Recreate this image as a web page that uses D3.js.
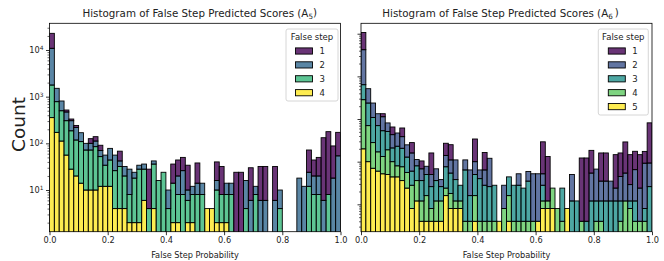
<!DOCTYPE html>
<html>
<head>
<meta charset="utf-8">
<script src="https://cdn.jsdelivr.net/npm/d3@7"></script>
<style>
  body { margin: 0; background: #fff; }
  text { font-family: "DejaVu Sans", sans-serif; fill: #222; }
</style>
</head>
<body>
<svg id="chart"></svg>
<script>
const width = 664,
      height = 261;

const nBins = 60;
const xTicks = [0, 0.2, 0.4, 0.6, 0.8, 1.0];

// A5 panel, stacked counts per bin (false step 1..4)
const a5Step1 = [11890,0,0,48,26,24,0,0,26,27,21,0,0,0,26,0,0,0,0,0,24,0,0,0,0,22,24,24,24,0,24,0,0,0,24,24,0,0,24,24,0,24,0,26,26,0,26,0,0,0,0,0,0,48,24,30,126,170,70,118];
const a5Step2 = [9080,728,308,164,120,100,60,28,28,27,18,22,34,30,10,12,20,6,6,8,0,6,0,0,6,0,12,18,4,4,6,6,0,0,6,0,6,6,0,0,12,6,4,6,6,0,6,6,0,0,0,18,12,12,12,12,6,0,18,54];
const a5Step3 = [1422,610,388,250,158,98,95,62,62,75,40,22,32,22,28,16,6,16,26,22,4,32,16,24,4,12,6,8,4,6,8,8,0,0,8,6,6,8,0,0,4,0,8,0,0,0,0,4,0,0,0,0,0,12,8,8,0,8,0,0];
const a5Step4 = [356,172,112,56,28,20,14,10,10,10,12,12,12,4,4,4,2,2,2,6,0,4,0,0,0,2,2,0,2,2,0,0,4,4,2,2,2,0,0,0,0,0,0,0,0,0,0,0,0,0,0,0,0,0,0,0,0,0,0,0];

// A6 panel, stacked values per bin (false step 1..5)
const a6Step1 = [6480,0,0,0,20,0,22,0,23,0,12,0,3.6,0,11,0,0,13,14,0,0,0,0,24,0,10,0,0,0,0,0,0,0,0,0,0,0,24,12,0,0,0,0,0,0,11.8,11.8,13,0,12.5,12.5,0,12.2,11.5,23.6,11.7,11,12.2,8.2,72];
const a6Step2 = [3580,277,128,63,60,30,22,24,18,12,10,3.2,3.2,2.8,2.4,3.2,1.2,6.4,5.6,7.2,0,4.6,4.8,5,2.4,3.6,9.4,0,0,2,0,0,2.4,0,2.4,4.8,4.8,2.4,0,0,0,0,0,3.8,0,0,0,4.2,5.5,2.3,2.3,2.3,1.2,3.3,4.2,1.7,5.3,2,8.4,6.7];
const a6Step3 = [354,167,81,53,40,32,11,15,13,7.2,3.2,4.4,2.4,3.4,1.8,2.4,1.4,5.2,3.6,2.6,1.6,6,1.2,3.4,3.6,2.4,2.2,2.4,0,0,2.8,2.4,2.4,2,3.1,0,0,1.6,0,0,0,2,0,1.2,1.2,0,0.4,1.2,0.8,0.8,1.2,1.2,1.2,0.8,0,0.4,0.8,0,0.4,2.6];
const a6Step4 = [264,60,21,11,8,14,5.6,3.6,4,3.2,2,2.4,0.8,1.2,0.4,0.8,0.8,0.8,1,0.4,0.4,0.4,0.4,1.2,0.4,0.4,0.4,0.4,0,0.8,1.2,0.4,0.4,0.4,0.4,0.4,0,0.4,0.4,1.6,0.8,0.4,0,0,0,0.4,0,0,0.4,0.4,0,0,0,0.4,1.2,0.8,0.4,0.4,0.4,0];
const a6Step5 = [20,10,7,6,5.2,5,4.4,4.4,3.6,2.4,0.8,1.2,0.4,0.4,0.4,0.4,0.4,1.6,0.8,0.8,0.8,0,0,0.4,0,0,0,0,0.4,0,0.4,0,0,0,0,0,0.4,0.8,0.8,0.8,0,0,0.8,0,0,0,0,0,0,0,0,0,0,0,0,0,0,0,0,0];

const labels4 = ["1", "2", "3", "4"];
const labels5 = ["1", "2", "3", "4", "5"];
const viridis4 = ["#440154", "#31688e", "#35b779", "#fde725"];
const viridis5 = ["#440154", "#3b528b", "#21918c", "#5ec962", "#fde725"];

const svg = d3.select("#chart").attr("width", width).attr("height", height);

function drawPanel(cfg) {
  const g = svg.append("g");
  const x = d3.scaleLinear().domain([0, 1]).range([cfg.left, cfg.right]);
  const y = d3.scaleLog().domain(cfg.yDomain).range([cfg.bottom, cfg.top]);

  const keys = cfg.series.map((s, i) => "s" + (i + 1));
  const rows = d3.range(nBins).map(b => {
    const r = {bin: b};
    cfg.series.forEach((s, i) => r["s" + (i + 1)] = s[b]);
    return r;
  });
  // highest step sits at the bottom of the stack
  const layers = d3.stack().keys(keys.slice().reverse())(rows);

  svg.append("clipPath").attr("id", cfg.id)
    .append("rect")
      .attr("x", cfg.left).attr("y", cfg.top)
      .attr("width", cfg.right - cfg.left).attr("height", cfg.bottom - cfg.top);

  const bars = g.append("g").attr("clip-path", `url(#${cfg.id})`);
  const bw = x(1 / nBins) - x(0);
  layers.forEach(layer => {
    const i = keys.indexOf(layer.key);
    bars.append("g")
        .attr("fill", cfg.colors[i])
        .attr("fill-opacity", 0.8)
        .attr("stroke", "#000")
        .attr("stroke-width", 0.9)
      .selectAll("rect")
      .data(layer.filter(d => d[1] - d[0] > 1e-9))
      .join("rect")
        .attr("x", d => x(d.data.bin / nBins))
        .attr("width", bw)
        .attr("y", d => y(d[1]))
        .attr("height", d => (d[0] > 1e-9 ? y(d[0]) : cfg.bottom + 4) - y(d[1]));
  });

  // log ticks
  const lo = Math.log10(cfg.yDomain[0]), hi = Math.log10(cfg.yDomain[1]);
  const majors = d3.range(Math.ceil(lo), Math.floor(hi) + 1).map(k => Math.pow(10, k));
  const minors = [];
  d3.range(Math.floor(lo), Math.floor(hi) + 1).forEach(k => {
    d3.range(2, 10).forEach(m => {
      const v = m * Math.pow(10, k);
      if (v > cfg.yDomain[0] && v < cfg.yDomain[1]) minors.push(v);
    });
  });

  const yMinor = g.append("g")
    .attr("transform", `translate(${cfg.left},0)`)
    .call(d3.axisLeft(y).tickValues(minors).tickSize(2).tickFormat(""));
  yMinor.select(".domain").remove();
  yMinor.selectAll("line").attr("stroke-width", 0.6);

  const yMajor = g.append("g")
    .attr("transform", `translate(${cfg.left},0)`)
    .call(d3.axisLeft(y).tickValues(majors).tickSize(3.5).tickPadding(2.5).tickFormat(""));
  yMajor.select(".domain").remove();
  yMajor.selectAll("line").attr("stroke-width", 0.8);
  if (cfg.yLabels) {
    yMajor.selectAll("text")
      .attr("font-size", 8.2)
      .attr("fill", "#222")
      .each(function(d) {
        const t = d3.select(this);
        t.append("tspan").text("10");
        t.append("tspan").attr("dy", "-0.45em").attr("font-size", "72%").text(Math.round(Math.log10(d)));
      });
  }

  const xAxis = g.append("g")
    .attr("transform", `translate(0,${cfg.bottom})`)
    .call(d3.axisBottom(x).tickValues(xTicks).tickSize(3.5).tickPadding(2).tickFormat(d3.format(".1f")));
  xAxis.select(".domain").remove();
  xAxis.selectAll("line").attr("stroke-width", 0.8);
  xAxis.selectAll("text").attr("font-size", 8.2).attr("fill", "#222");

  g.append("rect")
    .attr("x", cfg.left).attr("y", cfg.top)
    .attr("width", cfg.right - cfg.left).attr("height", cfg.bottom - cfg.top)
    .attr("fill", "none").attr("stroke", "#000").attr("stroke-width", 0.8);

  // title with subscript
  const title = g.append("text")
    .attr("x", cfg.titleX).attr("y", 17)
    .attr("font-size", 10.3);
  title.append("tspan").text("Histogram of False Step Predicted Scores (A");
  title.append("tspan").attr("dy", "0.3em").attr("font-size", "70%").text(cfg.sub);
  title.append("tspan").attr("dy", "-0.3em").text(cfg.subGap + ")");

  g.append("text")
    .attr("x", (cfg.left + cfg.right) / 2).attr("y", 258)
    .attr("text-anchor", "middle").attr("font-size", 8.2)
    .text("False Step Probability");

  // legend
  const L = cfg.legend;
  const lg = g.append("g");
  lg.append("rect")
    .attr("x", L.x).attr("y", L.y).attr("width", L.w).attr("height", L.h)
    .attr("rx", 2).attr("fill", "#fff").attr("fill-opacity", 0.8)
    .attr("stroke", "#ccc").attr("stroke-width", 0.8);
  lg.append("text")
    .attr("x", L.x + L.w / 2).attr("y", L.y + 10.5)
    .attr("text-anchor", "middle").attr("font-size", 8.5)
    .text("False step");
  cfg.labels.forEach((lab, i) => {
    const cy = L.y + 22 + i * 13.9;
    lg.append("rect")
      .attr("x", L.patchX).attr("y", cy - 3.1)
      .attr("width", 17).attr("height", 6.2)
      .attr("fill", cfg.colors[i]).attr("fill-opacity", 0.8)
      .attr("stroke", "#000").attr("stroke-width", 0.9);
    lg.append("text")
      .attr("x", L.patchX + 24).attr("y", cy + 3)
      .attr("font-size", 8.5)
      .text(lab);
  });
}

drawPanel({
  id: "clipA5",
  left: 49.5, right: 340.5, top: 23.3, bottom: 231.7,
  yDomain: [Math.pow(10, 0.107), Math.pow(10, 4.572)],
  series: [a5Step1, a5Step2, a5Step3, a5Step4],
  colors: viridis4,
  labels: labels4,
  yLabels: true,
  titleX: 82.5, sub: "5", subGap: "",
  legend: {x: 286, y: 29, w: 52, h: 72, patchX: 295.5}
});

drawPanel({
  id: "clipA6",
  left: 361, right: 652, top: 23.3, bottom: 231.7,
  yDomain: [Math.pow(10, -0.642), Math.pow(10, 4.244)],
  series: [a6Step1, a6Step2, a6Step3, a6Step4, a6Step5],
  colors: viridis5,
  labels: labels5,
  yLabels: false,
  titleX: 382.3, sub: "6", subGap: "\u2009",
  legend: {x: 598.3, y: 29, w: 50, h: 86, patchX: 608.3}
});

svg.append("text")
  .attr("transform", "translate(25,124.5) rotate(-90)")
  .attr("text-anchor", "middle")
  .attr("font-size", 18.5)
  .text("Count");
</script>
</body>
</html>
